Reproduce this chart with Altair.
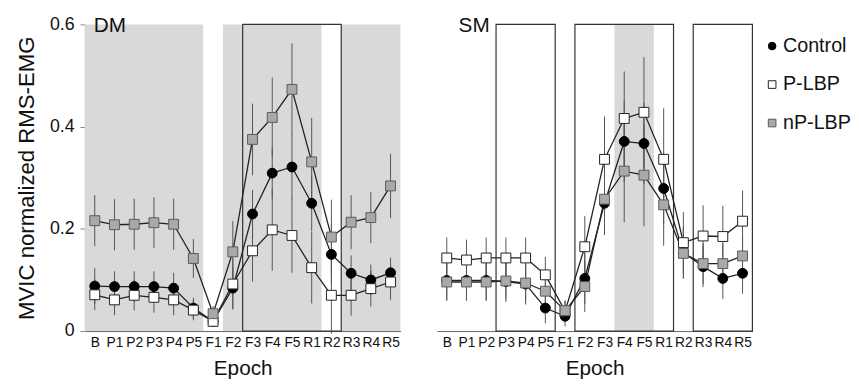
import altair as alt
import pandas as pd

FONT = "Liberation Sans"

epochs = ["B", "P1", "P2", "P3", "P4", "P5", "F1", "F2", "F3", "F4", "F5",
          "R1", "R2", "R3", "R4", "R5"]
groups = ["Control", "P-LBP", "nP-LBP"]

# DM panel (means and error half-widths)
dm_control = [0.088, 0.087, 0.087, 0.087, 0.084, 0.045, 0.019, 0.084, 0.229, 0.309, 0.321, 0.250, 0.150, 0.113, 0.100, 0.114]
dm_plbp = [0.071, 0.061, 0.070, 0.066, 0.061, 0.041, 0.019, 0.092, 0.157, 0.198, 0.187, 0.124, 0.070, 0.070, 0.083, 0.096]
dm_nplbp = [0.216, 0.208, 0.209, 0.212, 0.209, 0.142, 0.034, 0.155, 0.375, 0.418, 0.473, 0.331, 0.184, 0.213, 0.222, 0.284]
dm_control_err = [0.035, 0.030, 0.030, 0.030, 0.030, 0.020, 0.010, 0.040, 0.047, 0.050, 0.063, 0.055, 0.060, 0.035, 0.030, 0.030]
dm_plbp_err = [0.030, 0.030, 0.030, 0.030, 0.030, 0.020, 0.010, 0.050, 0.060, 0.080, 0.073, 0.070, 0.075, 0.040, 0.035, 0.035]
dm_nplbp_err = [0.050, 0.050, 0.050, 0.050, 0.050, 0.038, 0.015, 0.060, 0.070, 0.078, 0.090, 0.086, 0.073, 0.053, 0.050, 0.063]

# SM panel
sm_control = [0.099, 0.099, 0.099, 0.097, 0.092, 0.045, 0.029, 0.103, 0.250, 0.371, 0.367, 0.279, 0.154, 0.126, 0.103, 0.113]
sm_plbp = [0.143, 0.139, 0.143, 0.143, 0.143, 0.110, 0.039, 0.165, 0.336, 0.416, 0.428, 0.336, 0.173, 0.186, 0.185, 0.215]
sm_nplbp = [0.096, 0.096, 0.096, 0.098, 0.094, 0.078, 0.040, 0.087, 0.258, 0.313, 0.305, 0.247, 0.152, 0.132, 0.132, 0.147]
sm_control_err = [0.040, 0.040, 0.040, 0.040, 0.040, 0.030, 0.020, 0.050, 0.060, 0.080, 0.080, 0.070, 0.050, 0.040, 0.040, 0.040]
sm_plbp_err = [0.040, 0.040, 0.040, 0.040, 0.040, 0.035, 0.020, 0.060, 0.084, 0.092, 0.108, 0.100, 0.060, 0.060, 0.060, 0.060]
sm_nplbp_err = [0.035, 0.035, 0.035, 0.035, 0.035, 0.030, 0.020, 0.050, 0.070, 0.100, 0.100, 0.080, 0.050, 0.040, 0.040, 0.040]

# shaded epochs and outlined epoch blocks (in epoch-index units)
dm_shade_start = [-0.5, 6.5, 12.5]
dm_shade_end = [5.5, 11.5, 15.5]
dm_box_start = [7.5]
dm_box_end = [12.5]
sm_shade_start = [8.5]
sm_shade_end = [10.5]
sm_box_start = [2.5, 6.5, 12.5]
sm_box_end = [5.5, 11.5, 15.5]

Y_MAX = 0.6


def long_df(series, errs):
    rows = []
    for g, vals, es in zip(groups, series, errs):
        for i, (v, e) in enumerate(zip(vals, es)):
            rows.append({"idx": i, "epoch": epochs[i], "group": g, "value": v,
                         "lo": v - e, "hi": v + e})
    return pd.DataFrame(rows)


def spans(starts, ends):
    return pd.DataFrame({"x0": starts, "x1": ends,
                         "y0": [0.0] * len(starts), "y1": [Y_MAX] * len(starts)})


label_expr = "[" + ",".join("'%s'" % e for e in epochs) + "][datum.value]"

shape_scale = alt.Scale(domain=groups, range=["circle", "square", "square"])
fill_scale = alt.Scale(domain=groups, range=["#000000", "#ffffff", "#a9a9a9"])
stroke_scale = alt.Scale(domain=groups, range=["#000000", "#222222", "#5a5a5a"])
xscale = alt.Scale(domain=[-0.5, 15.5], nice=False, zero=False)
yscale = alt.Scale(domain=[0, Y_MAX], nice=False, zero=False)

xaxis = alt.Axis(values=list(range(16)), labelExpr=label_expr, title="Epoch",
                 ticks=False, grid=False, domainColor="#666",
                 labelFontSize=14, labelFont=FONT, labelColor="#111",
                 labelPadding=5, titleFontSize=21, titleFont=FONT,
                 titleFontWeight="normal", titleColor="#111",
                 titlePadding=8, labelFlush=False, labelOverlap=False)


def panel(df, shade, box, name, show_y):
    if show_y:
        yaxis = alt.Axis(values=[0, 0.2, 0.4, 0.6],
                         labelExpr="datum.value == 0 ? '0' : format(datum.value, '.1f')",
                         title="MVIC normalized RMS-EMG", grid=False,
                         domainColor="#888", tickColor="#888", tickSize=5,
                         labelFontSize=18, labelFont=FONT, labelColor="#111",
                         labelPadding=6, titleFontSize=22.5, titleFont=FONT,
                         titleFontWeight="normal", titleColor="#111", titlePadding=11)
    else:
        yaxis = None

    shade_layer = alt.Chart(shade).mark_rect(color="#d9d9d9").encode(
        x=alt.X("x0:Q", scale=xscale, axis=xaxis),
        x2="x1:Q",
        y=alt.Y("y0:Q", scale=yscale, axis=yaxis),
        y2="y1:Q",
    )
    box_layer = alt.Chart(box).mark_rect(fillOpacity=0, stroke="#333", strokeWidth=1.2).encode(
        x=alt.X("x0:Q", scale=xscale, axis=xaxis), x2="x1:Q",
        y=alt.Y("y0:Q", scale=yscale, axis=yaxis), y2="y1:Q",
    )
    base = alt.Chart(df)
    x = alt.X("idx:Q", scale=xscale, axis=xaxis)
    err_layer = base.mark_rule(color="#555", strokeWidth=1).encode(
        x=x, y=alt.Y("lo:Q", scale=yscale, axis=yaxis), y2="hi:Q",
    )
    line_layer = base.mark_line(color="#222", strokeWidth=1.3).encode(
        x=x, y=alt.Y("value:Q", scale=yscale, axis=yaxis), detail="group:N",
    )
    point_layer = base.mark_point(filled=True, size=100, opacity=1, strokeWidth=1).encode(
        x=x, y=alt.Y("value:Q", scale=yscale, axis=yaxis),
        shape=alt.Shape("group:N", scale=shape_scale, legend=None),
        fill=alt.Fill("group:N", scale=fill_scale, legend=None),
        stroke=alt.Stroke("group:N", scale=stroke_scale, legend=None),
    )
    label_layer = alt.Chart(pd.DataFrame({"t": [name]})).mark_text(
        align="left", baseline="alphabetic", fontSize=21, font=FONT, color="#111"
    ).encode(x=alt.value(9 if show_y else 22), y=alt.value(8), text="t:N")

    return alt.layer(shade_layer, box_layer, err_layer, line_layer, point_layer,
                     label_layer).properties(width=320, height=311)


dm_df = long_df([dm_control, dm_plbp, dm_nplbp], [dm_control_err, dm_plbp_err, dm_nplbp_err])
sm_df = long_df([sm_control, sm_plbp, sm_nplbp], [sm_control_err, sm_plbp_err, sm_nplbp_err])

left = panel(dm_df, spans(dm_shade_start, dm_shade_end), spans(dm_box_start, dm_box_end), "DM", True)
right = panel(sm_df, spans(sm_shade_start, sm_shade_end), spans(sm_box_start, sm_box_end), "SM", False)

# manual legend
leg_df = pd.DataFrame({"group": groups})
leg_y = alt.Y("group:N", sort=groups, axis=None,
              scale=alt.Scale(type="point", range=[22, 100], padding=0))
leg_pts = alt.Chart(leg_df).mark_point(filled=True, size=60, opacity=1, strokeWidth=1).encode(
    x=alt.value(9), y=leg_y,
    shape=alt.Shape("group:N", scale=shape_scale, legend=None),
    fill=alt.Fill("group:N", scale=fill_scale, legend=None),
    stroke=alt.Stroke("group:N", scale=stroke_scale, legend=None),
)
leg_txt = alt.Chart(leg_df).mark_text(align="left", baseline="middle", fontSize=20,
                                      font=FONT, color="#111").encode(
    x=alt.value(20), y=leg_y, text="group:N")
legend_panel = alt.layer(leg_pts, leg_txt).properties(width=75, height=311)

chart = alt.hconcat(alt.hconcat(left, right, spacing=37), legend_panel, spacing=10).properties(
    padding={"left": 7, "top": 5, "right": 0, "bottom": 0}
).configure(font=FONT).configure_view(stroke=None)

chart.save("out.html", embed_options={"renderer": "svg", "actions": False})
